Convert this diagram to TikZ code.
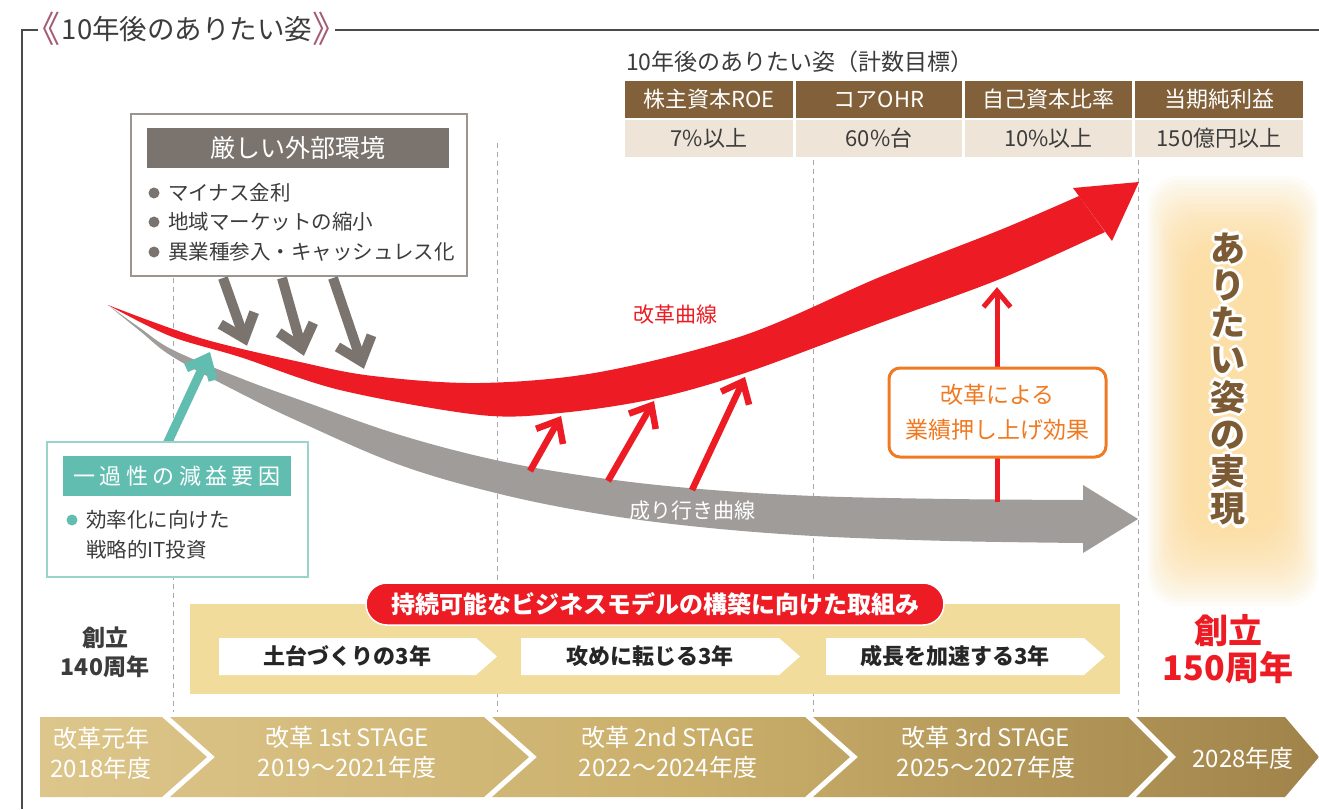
\documentclass[tikz,border=0pt]{standalone}
\usepackage{fontspec}
\setmainfont{Noto Sans CJK JP}
\usetikzlibrary{calc}
\definecolor{redc}{HTML}{ED1C24}
\definecolor{grayband}{HTML}{A09C9A}
\definecolor{boxtit}{HTML}{7B746E}
\definecolor{boxline}{HTML}{9A9590}
\definecolor{txt}{HTML}{3C3C3C}
\definecolor{mauve}{HTML}{A55B72}
\definecolor{framec}{HTML}{4A4A4A}
\definecolor{brownh}{HTML}{81603A}
\definecolor{beigec}{HTML}{EEE5D8}
\definecolor{dashc}{HTML}{A8A8A8}
\definecolor{tealc}{HTML}{62BDB1}
\definecolor{teall}{HTML}{9AD3CB}
\definecolor{orangec}{HTML}{F07A22}
\definecolor{bandc}{HTML}{F2DC9C}
\definecolor{glowc}{HTML}{FCD98F}
\definecolor{vbrown}{HTML}{7B5A34}
\definecolor{stageA}{HTML}{DDC68B}
\definecolor{stageB}{HTML}{CBB06C}
\definecolor{stageC}{HTML}{A0834A}
\newcommand{\fsz}[2]{\fontsize{#1}{#2}\selectfont}
% chevron arrow: start, tip, colour, width, arm length
\newcommand{\chevarrow}[5]{%
  \draw[draw=#3, line width=#4pt] (#1) -- (#2);
  \draw[draw=#3, line width=#4pt, line join=miter, miter limit=20]
    ($(#2)!#5pt!40:(#1)$) -- (#2) -- ($(#2)!#5pt!-40:(#1)$);
}
\begin{document}
\begin{tikzpicture}[x=1pt,y=-1pt,
  every node/.style={inner sep=0pt,outer sep=0pt},
  dashv/.style={draw=dashc,line width=1pt,dash pattern=on 5pt off 4pt},
  hcell/.style={fill=brownh,text=white,font=\fsz{22}{26},minimum height=37pt},
  bcell/.style={fill=beigec,text=txt,font=\fsz{22}{26},minimum height=37pt},
  bullettxt/.style={anchor=west,text=txt,font=\fsz{20.5}{24}},
  stagetxt/.style={text=white,font=\fsz{24}{30},align=center},
  goaltxt/.style={text=black!85,font=\bfseries\fsz{22}{26}},
  vtext/.style={font=\bfseries\fsz{35}{37.2},align=center},
  framel/.style={draw=framec,line width=1.1pt},
]
\useasboundingbox (0,0) rectangle (1319,809);
\fill[white] (0,0) rectangle (1319,809);

% ---------- frame and title
\draw[framel] (38,30) -- (22,30) -- (22,809);
\draw[framel] (335,30) -- (1319,30);
\node[text=mauve,font=\fsz{36}{40}] (tl) at (42,29) {《};
\node[text=txt,font=\fsz{27.5}{30}] (tt) at (187,29) {10年後のありたい姿};
\node[text=mauve,font=\fsz{36}{40}] (tr) at (330,29) {》};

% ---------- table
\node[anchor=west,text=txt,font=\fsz{23}{28}] (ttl) at (626,62) {10年後のありたい姿（計数目標）};
\node[hcell,minimum width=168pt] (h1) at (709,99.5) {株主資本ROE};
\node[hcell,minimum width=166pt] (h2) at (879,99.5) {コアOHR};
\node[hcell,minimum width=167pt] (h3) at (1048.5,99.5) {自己資本比率};
\node[hcell,minimum width=168pt] (h4) at (1219,99.5) {当期純利益};
\node[bcell,minimum width=168pt] (v1) at (709,138.5) {7\%以上};
\node[bcell,minimum width=166pt] (v2) at (879,138.5) {60\%台};
\node[bcell,minimum width=167pt] (v3) at (1048.5,138.5) {10\%以上};
\node[bcell,minimum width=168pt] (v4) at (1219,138.5) {150億円以上};

% ---------- dashed period lines
\draw[dashv] (173,278) -- (173,712);
\draw[dashv] (497,143) -- (497,712);
\draw[dashv] (813,160) -- (813,712);
\draw[dashv] (1138,160) -- (1138,712);

% ---------- glow panel
\foreach \i in {0,...,19}
  \fill[glowc,fill opacity=0.065,rounded corners=30pt]
    ({1148+\i*2.2},{176+\i*4}) rectangle ({1318-\i*2.2},{606-\i*4});
\foreach \dx/\dy [count=\k] in {2.5/0,-2.5/0,0/2.5,0/-2.5,1.8/1.8,-1.8/1.8,1.8/-1.8,-1.8/-1.8,3.5/0,-3.5/0,0/3.5,0/-3.5}
  \node[vtext,text=white] (halo\k) at (1228+\dx,379+\dy) {あ\\り\\た\\い\\姿\\の\\実\\現};
\node[vtext,text=vbrown] (vt) at (1228,379) {あ\\り\\た\\い\\姿\\の\\実\\現};

% ---------- gray curve (trend)
\fill[grayband] plot[smooth,tension=0.6] coordinates {(108,305) (140,328) (173,350) (240,378) (300,400) (400,435) (500,461) (600,478) (700,489) (814,496) (950,499) (1083,500)}
  -- plot[smooth,tension=0.6] coordinates {(1083,543) (950,541) (814,536) (700,527) (600,514) (500,494) (400,465) (300,422) (240,393) (173,357) (140,331) (108,305)} -- cycle;
\fill[grayband] (1083,485) -- (1138,519) -- (1083,553) -- cycle;
\node[text=white,font=\fsz{21}{25}] (lgray) at (692,511) {成り行き曲線};

% ---------- red curve (reform)
\fill[redc] plot[smooth,tension=0.55] coordinates {(108,305) (200,338) (300,362) (373,376) (480,383) (600,372) (745,335) (880,277) (1000,230) (1079,196)}
  -- plot[smooth,tension=0.55] coordinates {(1105,232) (1000,279) (880,323) (745,373) (653,399) (560,413) (480,415) (340,390) (240,357) (170,336) (108,305)} -- cycle;
\fill[redc] (1073,188) -- (1139,182) -- (1112,241) -- cycle;
\node[text=redc,font=\fsz{21}{25}] (lred) at (675,315) {改革曲線};

% ---------- external environment box
\node[draw=boxline,line width=1.2pt,fill=white,minimum width=336pt,minimum height=162pt,anchor=north west] (envbox) at (131,114) {};
\node[fill=boxtit,text=white,font=\fsz{25}{28},minimum width=302pt,minimum height=40pt,anchor=north west] (envtitle) at (147,128) {厳しい外部環境};
\fill[boxtit] (154,193) circle (5.5);
\node[bullettxt] (eb1) at (168,193) {マイナス金利};
\fill[boxtit] (154,222) circle (5.5);
\node[bullettxt] (eb2) at (168,222) {地域マーケットの縮小};
\fill[boxtit] (154,252) circle (5.5);
\node[bullettxt] (eb3) at (168,252) {異業種参入・キャッシュレス化};

% gray pressure arrows
\coordinate (ga1s) at (223,278); \coordinate (ga1t) at (244.4,338.4);
\coordinate (ga2s) at (282,278); \coordinate (ga2t) at (301.8,348.3);
\coordinate (ga3s) at (333,278); \coordinate (ga3t) at (361.4,361.4);
\chevarrow{ga1s}{ga1t}{boxtit}{10}{28}
\chevarrow{ga2s}{ga2t}{boxtit}{10}{28}
\chevarrow{ga3s}{ga3t}{boxtit}{10}{28}

% ---------- teal box and arrow
\coordinate (tas) at (167,444); \coordinate (tat) at (207,358.3);
\chevarrow{tas}{tat}{tealc}{9}{23}
\node[draw=teall,line width=1.2pt,fill=white,minimum width=261pt,minimum height=135pt,anchor=north west] (onebox) at (47,442) {};
\node[fill=tealc,text=white,font=\fsz{22}{26}\addfontfeatures{LetterSpace=20},minimum width=228pt,minimum height=40pt,anchor=north west] (onetitle) at (63,456) {一過性の減益要因};
\fill[tealc] (72,520) circle (5.5);
\node[bullettxt] (ob1) at (86,520) {効率化に向けた};
\node[bullettxt] (ob2) at (86,550) {戦略的IT投資};

% ---------- red uplift arrows
\coordinate (ra1s) at (530,471); \coordinate (ra1t) at (558.6,420.4);
\coordinate (ra2s) at (608,481); \coordinate (ra2t) at (651.5,405.4);
\coordinate (ra3s) at (692,490); \coordinate (ra3t) at (742.9,381.5);
\chevarrow{ra1s}{ra1t}{redc}{6.5}{24}
\chevarrow{ra2s}{ra2t}{redc}{6.5}{24}
\chevarrow{ra3s}{ra3t}{redc}{6.5}{24}
\coordinate (rvs) at (997,502); \coordinate (rvt) at (997,291);
\chevarrow{rvs}{rvt}{redc}{5}{21}
\node[draw=orangec,line width=3pt,fill=white,rounded corners=11pt,minimum width=217pt,minimum height=89pt,text=orangec,font=\fsz{23}{35},align=center] (eff) at (997.5,412.5) {改革による\\業績押し上げ効果};

% ---------- sustainable business model band
\node[fill=bandc,minimum width=930pt,minimum height=90pt,anchor=north west] (band) at (190,604) {};
\node[fill=redc,draw=white,line width=1.5pt,rounded corners=21pt,minimum width=578pt,minimum height=42pt,text=white,font=\bfseries\fsz{24}{28}] (pill) at (655,604) {持続可能なビジネスモデルの構築に向けた取組み};
\fill[white] (219,638) -- (476,638) -- (497,656.5) -- (476,675) -- (219,675) -- cycle;
\node[goaltxt] (g1) at (347.5,656.5) {土台づくりの3年};
\fill[white] (521,638) -- (779,638) -- (800,656.5) -- (779,675) -- (521,675) -- cycle;
\node[goaltxt] (g2) at (650,656.5) {攻めに転じる3年};
\fill[white] (826,638) -- (1084,638) -- (1105,656.5) -- (1084,675) -- (826,675) -- cycle;
\node[goaltxt] (g3) at (955,656.5) {成長を加速する3年};

\node[text=txt,font=\bfseries\fsz{23}{29},align=center] (f140) at (105,652.5) {創立\\140周年};
\node[text=redc,font=\bfseries\fsz{34}{37},align=center] (f150) at (1228,649) {創立\\150周年};

% ---------- stage bar
\shade[left color=stageA,right color=stageC,middle color=stageB]
  (40,717) -- (162,717) -- (207,757) -- (162,797) -- (40,797) -- cycle
  (170,717) -- (484,717) -- (529,757) -- (484,797) -- (170,797) -- (215,757) -- cycle
  (492,717) -- (805,717) -- (850,757) -- (805,797) -- (492,797) -- (537,757) -- cycle
  (813,717) -- (1128,717) -- (1168,757) -- (1128,797) -- (813,797) -- (858,757) -- cycle
  (1136,717) -- (1285,717) -- (1319,757) -- (1285,797) -- (1136,797) -- (1176,757) -- cycle;
\node[stagetxt] (s1) at (101,753) {改革元年\\2018年度};
\node[stagetxt] (s2) at (347,752) {改革 1st STAGE\\2019〜2021年度};
\node[stagetxt] (s3) at (668,752) {改革 2nd STAGE\\2022〜2024年度};
\node[stagetxt] (s4) at (986,752) {改革 3rd STAGE\\2025〜2027年度};
\node[stagetxt] (s5) at (1243,758) {2028年度};
\end{tikzpicture}
\end{document}
